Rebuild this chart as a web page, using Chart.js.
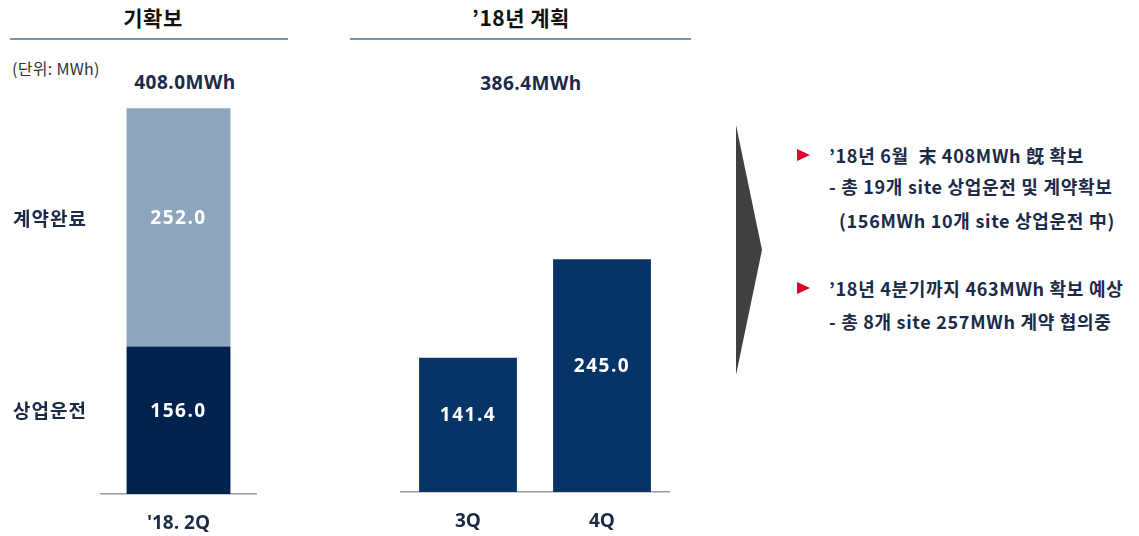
<!DOCTYPE html>
<html>
<head>
<meta charset="utf-8">
<script src="https://cdn.jsdelivr.net/npm/chart.js@4.4.1/dist/chart.umd.min.js"></script>
<style>
    body { margin: 0; width: 1139px; height: 536px; background: #fff; position: relative; overflow: hidden;
           font-family: "Noto Sans CJK KR", "Noto Sans", sans-serif; color: #1b2a47; }
    .abs { position: absolute; white-space: nowrap; line-height: 1; }
    .head { font-size: 21px; font-weight: bold; color: #111; transform: translateX(-50%); letter-spacing: 0.5px; }
    .rule { position: absolute; height: 2px; background: #7f93a6; }
    .total { font-family: "Open Sans", "Noto Sans CJK KR", sans-serif; font-size: 19px; font-weight: bold;
             color: #1b2a47; transform: translateX(-50%); letter-spacing: 0.5px; }
    .note { font-size: 18px; font-weight: bold; color: #1b2a47; letter-spacing: 0.7px; }
    .tri { position: absolute; width: 0; height: 0; border-top: 6px solid transparent; border-bottom: 6px solid transparent;
           border-left: 13px solid #e4002b; }
    #arrow { position: absolute; left: 736px; top: 125px; width: 26px; height: 250px; background: #404040;
             clip-path: polygon(0 0, 100% 50%, 0 100%); }
    canvas { position: absolute; }
</style>
</head>
<body>
<div class="abs head" style="left:153px; top:7px;">기확보</div>
<div class="rule" style="left:10px; top:38px; width:278px;"></div>
<div class="abs head" style="left:521px; top:7px;">’18년 계획</div>
<div class="rule" style="left:350px; top:38px; width:341px;"></div>
<div class="abs" style="left:12px; top:60px; font-size:16px; color:#333; letter-spacing:0.3px;">(단위: MWh)</div>
<div class="abs total" id="totalLeft" style="left:185px; top:73px;"></div>
<div class="abs total" id="totalRight" style="left:531px; top:74px;"></div>

<div style="position:absolute; left:0; top:0; width:300px; height:536px;"><canvas id="leftChart"></canvas></div>
<div style="position:absolute; left:390px; top:0; width:310px; height:536px;"><canvas id="rightChart"></canvas></div>

<div id="arrow"></div>

<div class="tri" style="left:797px; top:149px;"></div>
<div class="abs note" style="left:829px; top:146px;">’18년 6월&nbsp; 末 408MWh 旣 확보</div>
<div class="abs note" style="left:829px; top:177px;">- 총 19개 site 상업운전 및 계약확보</div>
<div class="abs note" style="left:839px; top:211px;">(156MWh 10개 site 상업운전 中)</div>
<div class="tri" style="left:797px; top:282px;"></div>
<div class="abs note" style="left:829px; top:279px;">’18년 4분기까지 463MWh 확보 예상</div>
<div class="abs note" style="left:829px; top:312px;">- 총 8개 site 257MWh 계약 협의중</div>

<script>
// data
const securedCategories = ["'18. 2Q"];
const operatingValues = [156.0];   // 상업운전
const contractedValues = [252.0];  // 계약완료
const planCategories = ["3Q", "4Q"];
const planValues = [141.4, 245.0];

const navy = "#00224e";
const steel = "#8ea5bd";
const planNavy = "#063466";
const textNavy = "#1b2a47";
const yMax = 420;

function sum(arr) { return arr.reduce((a, b) => a + b, 0); }
document.getElementById("totalLeft").textContent =
    (sum(operatingValues) + sum(contractedValues)).toFixed(1) + "MWh";
document.getElementById("totalRight").textContent = sum(planValues).toFixed(1) + "MWh";

// value labels inside bars, series names on the left for the stacked chart
const barLabels = {
    id: "barLabels",
    afterDatasetsDraw(chart, args, opts) {
        const ctx = chart.ctx;
        ctx.save();
        ctx.textBaseline = "middle";
        chart.data.datasets.forEach((ds, i) => {
            chart.getDatasetMeta(i).data.forEach((el, j) => {
                const y = (el.y + el.base) / 2 - 9;
                ctx.font = "bold 19px 'Open Sans'";
                ctx.letterSpacing = "1.5px";
                ctx.fillStyle = "#fff";
                ctx.textAlign = "center";
                ctx.fillText(ds.data[j].toFixed(1), el.x, y);
                if (opts.seriesNames) {
                    ctx.font = "bold 19px 'Noto Sans CJK KR'";
                    ctx.letterSpacing = "1px";
                    ctx.fillStyle = textNavy;
                    ctx.textAlign = "left";
                    ctx.fillText(ds.label, 13, y);
                }
            });
        });
        ctx.restore();
    }
};

function xAxis() {
    return {
        grid: { display: false },
        border: { display: true, color: "#9a9a9a", width: 1.5 },
        ticks: { color: textNavy, padding: 10, font: { family: "Open Sans", size: 19, weight: "bold" } },
        afterFit: s => { s.height = 42; }
    };
}

new Chart(document.getElementById("leftChart"), {
    type: "bar",
    data: {
        labels: securedCategories,
        datasets: [
            { label: "상업운전", data: operatingValues, backgroundColor: navy, categoryPercentage: 1, barPercentage: 0.67 },
            { label: "계약완료", data: contractedValues, backgroundColor: steel, categoryPercentage: 1, barPercentage: 0.67 }
        ]
    },
    options: {
        responsive: true,
        maintainAspectRatio: false,
        animation: false,
        layout: { padding: { left: 101, right: 44, top: 97, bottom: 0 } },
        scales: {
            x: Object.assign(xAxis(), { stacked: true }),
            y: { display: false, stacked: true, min: 0, max: yMax }
        },
        plugins: { legend: { display: false }, tooltip: { enabled: false }, barLabels: { seriesNames: true } }
    },
    plugins: [barLabels]
});

new Chart(document.getElementById("rightChart"), {
    type: "bar",
    data: {
        labels: planCategories,
        datasets: [
            { label: "계획", data: planValues, backgroundColor: planNavy, categoryPercentage: 1, barPercentage: 0.73 }
        ]
    },
    options: {
        responsive: true,
        maintainAspectRatio: false,
        animation: false,
        layout: { padding: { left: 11, right: 31, top: 93, bottom: 2 } },
        scales: {
            x: xAxis(),
            y: { display: false, min: 0, max: yMax }
        },
        plugins: { legend: { display: false }, tooltip: { enabled: false }, barLabels: { seriesNames: false } }
    },
    plugins: [barLabels]
});
</script>
</body>
</html>
